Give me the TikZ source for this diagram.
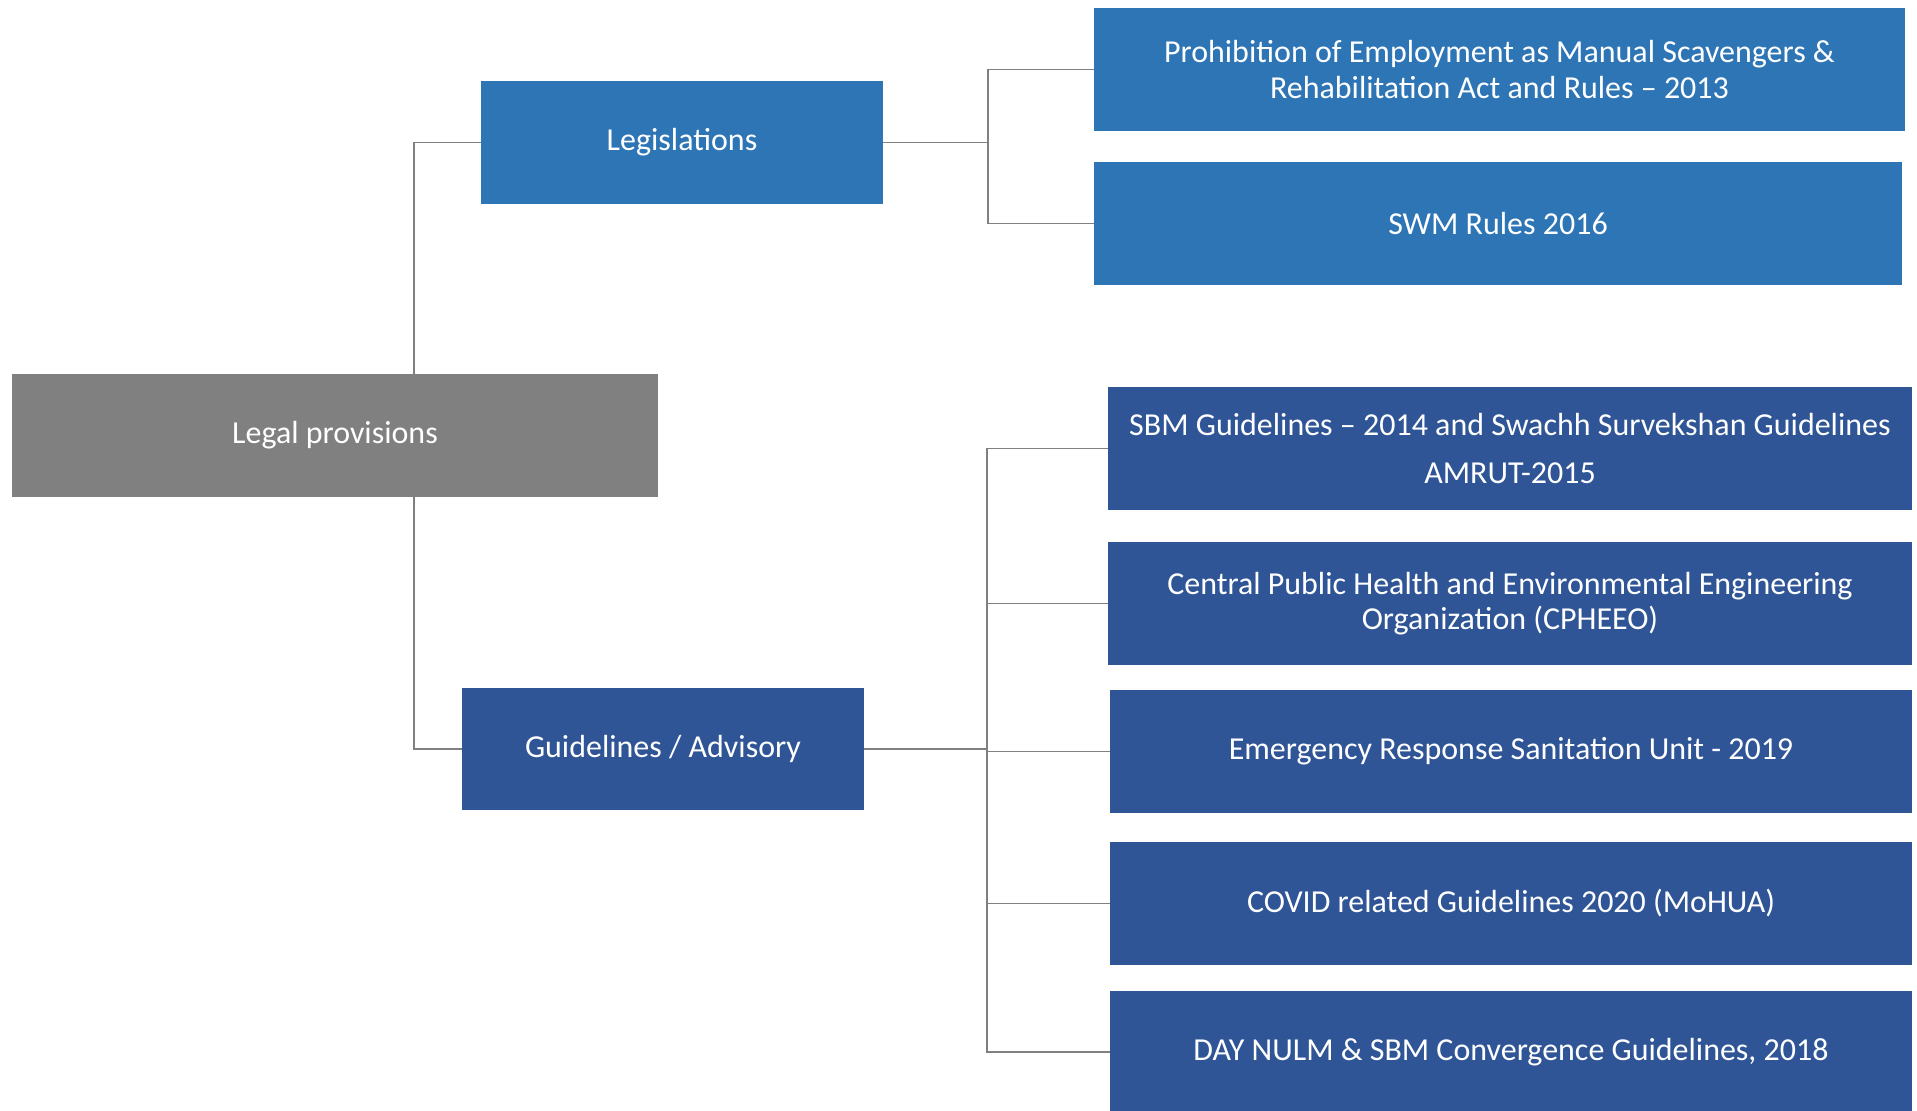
\documentclass[tikz,border=0pt]{standalone}
\usepackage{fontspec}
\setmainfont{Carlito}
\usepackage{tikz}
\usetikzlibrary{positioning}
\definecolor{legisblue}{RGB}{46,117,182}
\definecolor{guideblue}{RGB}{47,85,151}
\definecolor{rootgray}{RGB}{128,128,128}
\definecolor{linkgray}{RGB}{128,128,128}

\begin{document}
\begin{tikzpicture}[x=0.02cm,y=-0.02cm,
  box/.style={inner sep=0pt,outer sep=0pt,text=white,align=center,
    font=\fontsize{18.2}{20}\selectfont},
  legbox/.style={box,fill=legisblue},
  gdbox/.style={box,fill=guideblue},
  link/.style={draw=linkgray,line width=0.9pt}]
  \useasboundingbox (0,0) rectangle (1917,1111);

  \node (legal) [box,fill=rootgray,minimum width=12.92cm,minimum height=2.46cm] at (335,435.5) {Legal provisions};

  \node (legis) [legbox,minimum width=8.04cm,minimum height=2.46cm] at (682,142.5) {Legislations};
  \node (guide) [gdbox,minimum width=8.04cm,minimum height=2.44cm] at (663,749) {Guidelines / Advisory};

  \node (prohib) [legbox,minimum width=16.22cm,minimum height=2.46cm] at (1499.5,69.5)
    {Prohibition of Employment as Manual Scavengers \&\\Rehabilitation Act and Rules -- 2013};
  \node (swm) [legbox,minimum width=16.16cm,minimum height=2.46cm] at (1498,223.5) {SWM Rules 2016};

  \node (sbm) [gdbox,minimum width=16.08cm,minimum height=2.46cm,font=\fontsize{18.2}{27.5}\selectfont] at (1510,448.5)
    {SBM Guidelines -- 2014 and Swachh Survekshan Guidelines\\AMRUT-2015};
  \node (cpheeo) [gdbox,minimum width=16.08cm,minimum height=2.46cm] at (1510,603.5)
    {Central Public Health and Environmental Engineering\\Organization (CPHEEO)};
  \node (ersu) [gdbox,minimum width=16.04cm,minimum height=2.46cm] at (1511,751.5) {Emergency Response Sanitation Unit - 2019};
  \node (covid) [gdbox,minimum width=16.04cm,minimum height=2.46cm] at (1511,903.5) {COVID related Guidelines 2020 (MoHUA)};
  \node (nulm) [gdbox,minimum width=16.04cm,minimum height=2.44cm] at (1511,1052) {DAY NULM \& SBM Convergence Guidelines, 2018};

  % root to the two groups
  \draw [link] ([xshift=1.58cm]legal.north) |- (legis.west);
  \draw [link] ([xshift=1.58cm]legal.south) |- (guide.west);

  % legislations
  \coordinate (lbus) at (988,142.5);
  \draw [link] (legis.east) -- (lbus);
  \draw [link] (lbus) |- (prohib.west);
  \draw [link] (lbus) |- (swm.west);

  % guidelines
  \coordinate (gbus) at (987,749);
  \draw [link] (guide.east) -- (gbus);
  \draw [link] (gbus) |- (sbm.west);
  \draw [link] (gbus) |- (cpheeo.west);
  \draw [link] (gbus) |- (ersu.west);
  \draw [link] (gbus) |- (covid.west);
  \draw [link] (gbus) |- (nulm.west);
\end{tikzpicture}
\end{document}
